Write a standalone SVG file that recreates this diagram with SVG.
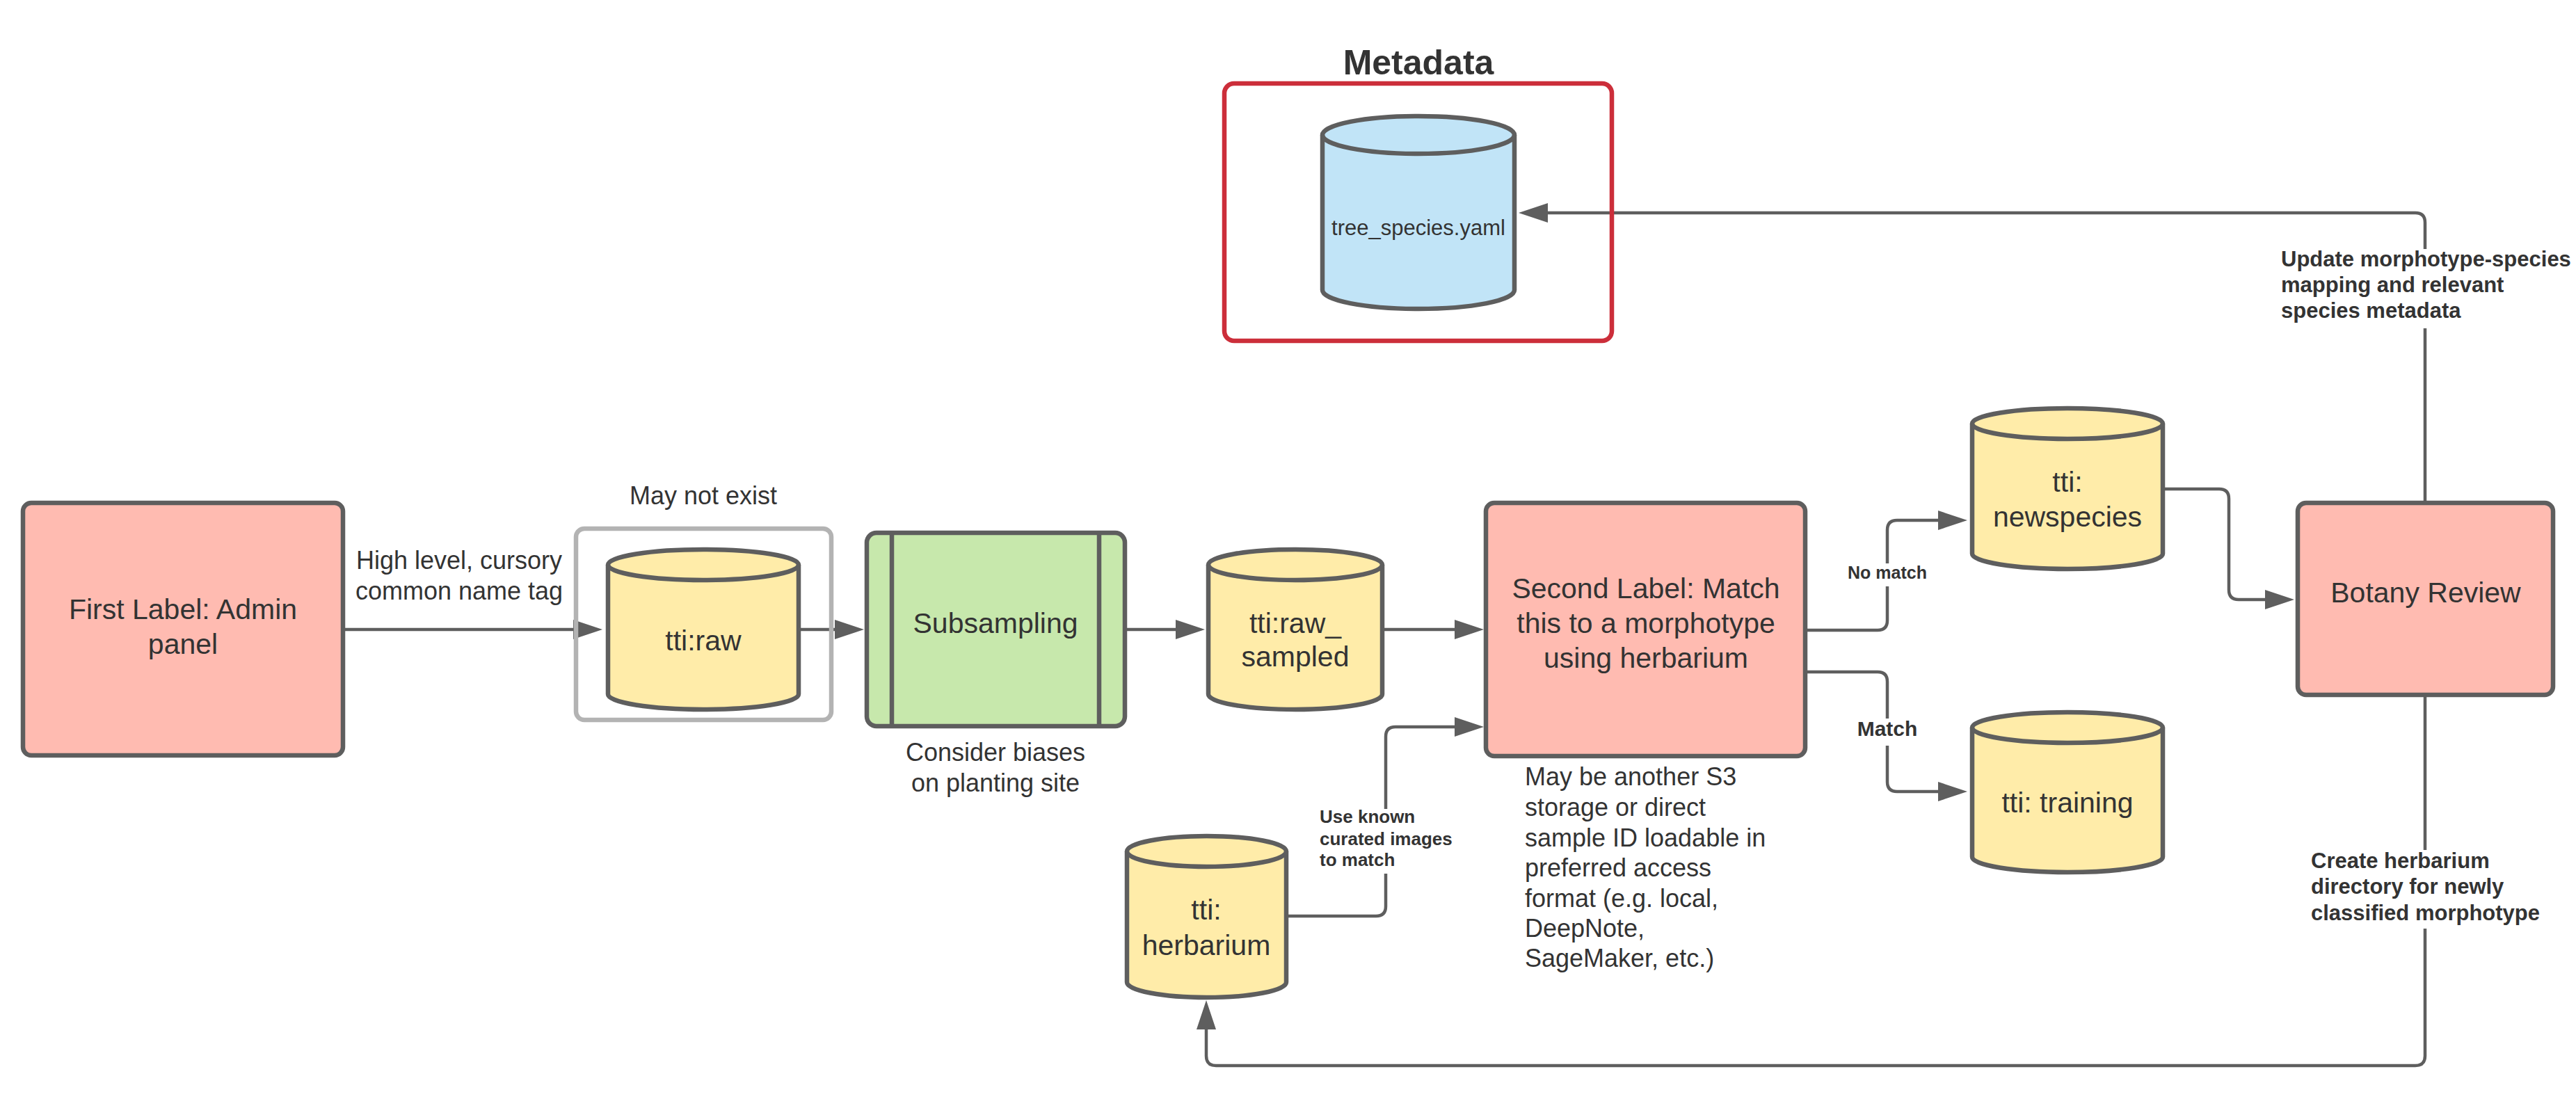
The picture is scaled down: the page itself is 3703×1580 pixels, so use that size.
<svg xmlns="http://www.w3.org/2000/svg" width="3703" height="1580" viewBox="0 0 3703 1580">
<defs>
<style>
.box{stroke:#5e5e5e;stroke-width:6.5}
.red{fill:#ffbbb1}
.yel{fill:#ffeca9;stroke:#5e5e5e;stroke-width:6.5}
.blue{fill:#c1e4f7;stroke:#5e5e5e;stroke-width:6.5}
.cap{fill:none;stroke:#5e5e5e;stroke-width:6.5}
.conn{fill:none;stroke:#5e5e5e;stroke-width:4.5;marker-end:url(#ah)}
.line{fill:none;stroke:#5e5e5e;stroke-width:4.5}
text{font-family:"Liberation Sans",Arial,sans-serif;fill:#333333}
.n{font-size:41px;text-anchor:middle}
.t{font-size:36px}
.b{font-weight:bold}
</style>
<marker id="ah" viewBox="0 0 42 28" refX="32" refY="14" markerWidth="42" markerHeight="28" markerUnits="userSpaceOnUse" orient="auto">
<path d="M0 0 L42 14 L0 28 Z" fill="#5e5e5e"/>
</marker>
</defs>
<rect width="3703" height="1580" fill="#ffffff"/>

<g id="connectors">
<path class="conn" d="M496 905 H856"/>
<path class="conn" d="M1151 905 H1232"/>
<path class="conn" d="M1620 905 H1722"/>
<path class="conn" d="M1990 905 H2123"/>
<path class="conn" d="M1852 1317 H1978 Q1992 1317 1992 1303 V1059 Q1992 1045 2006 1045 H2123"/>
<path class="conn" d="M2598 906 H2699 Q2713 906 2713 892 V762 Q2713 748 2727 748 H2818"/>
<path class="conn" d="M2598 966 H2699 Q2713 966 2713 980 V1124 Q2713 1138 2727 1138 H2818"/>
<path class="conn" d="M3112 703 H3190 Q3204 703 3204 717 V848 Q3204 862 3218 862 H3288"/>
<path class="conn" d="M3486 720 V320 Q3486 306 3472 306 H2193"/>
<path class="conn" d="M3486 1002 V1518 Q3486 1532 3472 1532 H1748 Q1734 1532 1734 1518 V1448"/>
<g id="connector-labels">
<rect x="2650" y="810" width="126" height="33" fill="#ffffff"/>
<text class="b" x="2713" y="832" font-size="25" text-anchor="middle">No match</text>
<rect x="2665" y="1033" width="100" height="39" fill="#ffffff"/>
<text class="b" x="2713" y="1058" font-size="30" text-anchor="middle">Match</text>
<rect x="1893" y="1163" width="198" height="93" fill="#ffffff"/>
<text class="b" font-size="26"><tspan x="1897" y="1183">Use known</tspan><tspan x="1897" y="1215">curated images</tspan><tspan x="1897" y="1245">to match</tspan></text>
<rect x="3274" y="358" width="424" height="114" fill="#ffffff"/>
<text class="b" font-size="31"><tspan x="3279" y="383">Update morphotype-species</tspan><tspan x="3279" y="420">mapping and relevant</tspan><tspan x="3279" y="457">species metadata</tspan></text>
<rect x="3317" y="1222" width="338" height="113" fill="#ffffff"/>
<text class="b" font-size="31"><tspan x="3322" y="1248">Create herbarium</tspan><tspan x="3322" y="1285">directory for newly</tspan><tspan x="3322" y="1323">classified morphotype</tspan></text>
</g>
</g>

<g id="first-label">
<rect class="box red" x="33" y="723" width="460" height="363" rx="12"/>
<text class="n"><tspan x="263" y="890">First Label: Admin</tspan><tspan x="263" y="940">panel</tspan></text>
</g>

<g id="label-high-level">
<text class="t" text-anchor="middle"><tspan x="660" y="818">High level, cursory</tspan><tspan x="660" y="862">common name tag</tspan></text>
</g>

<g id="raw-container">
<text class="t" x="1011" y="725" text-anchor="middle">May not exist</text>
<rect x="828" y="760" width="367" height="275" rx="12" fill="none" stroke="#b3b3b3" stroke-width="6.5"/>
</g>

<g id="tti-raw">
<path class="yel" d="M874 812 V998 A137 22 0 0 0 1148 998 V812 A137 22 0 0 0 874 812 Z"/>
<path class="cap" d="M874 812 A137 22 0 0 0 1148 812"/>
<text class="n" x="1011" y="935">tti:raw</text>
</g>

<g id="subsampling">
<rect x="1246" y="766" width="371" height="278" rx="14" fill="#c7e8ac" class="box"/>
<line x1="1282" y1="766" x2="1282" y2="1044" stroke="#5e5e5e" stroke-width="6.5"/>
<line x1="1580" y1="766" x2="1580" y2="1044" stroke="#5e5e5e" stroke-width="6.5"/>
<text class="n" x="1431" y="910">Subsampling</text>
<text class="t" text-anchor="middle"><tspan x="1431" y="1094">Consider biases</tspan><tspan x="1431" y="1138">on planting site</tspan></text>
</g>

<g id="tti-raw-sampled">
<path class="yel" d="M1737 812 V998 A125 22 0 0 0 1987 998 V812 A125 22 0 0 0 1737 812 Z"/>
<path class="cap" d="M1737 812 A125 22 0 0 0 1987 812"/>
<text class="n"><tspan x="1862" y="910">tti:raw_</tspan><tspan x="1862" y="958">sampled</tspan></text>
</g>

<g id="second-label">
<rect class="box red" x="2136" y="723" width="459" height="364" rx="12"/>
<text class="n"><tspan x="2366" y="860">Second Label: Match</tspan><tspan x="2366" y="910">this to a morphotype</tspan><tspan x="2366" y="960">using herbarium</tspan></text>
<text class="t"><tspan x="2192" y="1129">May be another S3</tspan><tspan x="2192" y="1173">storage or direct</tspan><tspan x="2192" y="1217">sample ID loadable in</tspan><tspan x="2192" y="1260">preferred access</tspan><tspan x="2192" y="1304">format (e.g. local,</tspan><tspan x="2192" y="1347">DeepNote,</tspan><tspan x="2192" y="1390">SageMaker, etc.)</tspan></text>
</g>

<g id="tti-herbarium">
<path class="yel" d="M1620 1224 V1412 A114.5 22 0 0 0 1849 1412 V1224 A114.5 22 0 0 0 1620 1224 Z"/>
<path class="cap" d="M1620 1224 A114.5 22 0 0 0 1849 1224"/>
<text class="n"><tspan x="1734" y="1322">tti:</tspan><tspan x="1734" y="1373">herbarium</tspan></text>
</g>

<g id="tti-newspecies">
<path class="yel" d="M2835 609 V796 A137 22 0 0 0 3109 796 V609 A137 22 0 0 0 2835 609 Z"/>
<path class="cap" d="M2835 609 A137 22 0 0 0 3109 609"/>
<text class="n"><tspan x="2972" y="707">tti:</tspan><tspan x="2972" y="757">newspecies</tspan></text>
</g>

<g id="tti-training">
<path class="yel" d="M2835 1046 V1232 A137 22 0 0 0 3109 1232 V1046 A137 22 0 0 0 2835 1046 Z"/>
<path class="cap" d="M2835 1046 A137 22 0 0 0 3109 1046"/>
<text class="n" x="2972" y="1168">tti: training</text>
</g>

<g id="botany-review">
<rect class="box red" x="3303" y="723" width="367" height="276" rx="12"/>
<text class="n" x="3487" y="866">Botany Review</text>
</g>

<g id="metadata">
<text class="b" x="2039" y="107" font-size="50" text-anchor="middle">Metadata</text>
<rect x="1760" y="120" width="557" height="370" rx="14" fill="none" stroke="#cc2e3a" stroke-width="6.5"/>
</g>

<g id="tree-species">
<path class="blue" d="M1901 194 V417 A138 27 0 0 0 2177 417 V194 A138 27 0 0 0 1901 194 Z"/>
<path class="cap" d="M1901 194 A138 27 0 0 0 2177 194"/>
<text x="2039" y="338" font-size="31" text-anchor="middle">tree_species.yaml</text>
</g>
</svg>
